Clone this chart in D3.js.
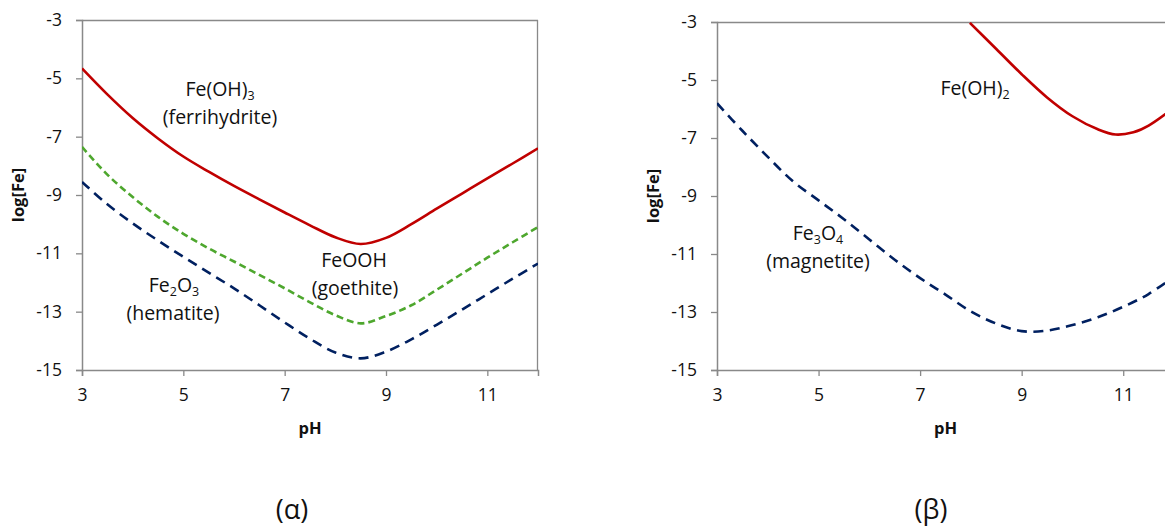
<!DOCTYPE html>
<html><head><meta charset="utf-8">
<script src="https://cdn.jsdelivr.net/npm/d3@7"></script>
<style>
html,body{margin:0;padding:0;background:#fff;}
svg{display:block;font-family:"Open Sans",sans-serif;}
</style></head>
<body><svg id="c" width="1165" height="527"></svg>
<script>
// ---- data ----
const xTicks = [3,5,7,9,11];
const yTicks = [-3,-5,-7,-9,-11,-13,-15];

// panel (α)
const phA = [3,3.5,4,4.5,5,5.5,6,6.5,7,7.5,8,8.5,9,9.5,10,10.5,11,11.5,12];
const ferrihydrite = [-4.66,-5.55,-6.36,-7.06,-7.68,-8.2,-8.69,-9.15,-9.6,-10.04,-10.45,-10.68,-10.47,-10.0,-9.47,-8.95,-8.43,-7.92,-7.4];
const goethite     = [-7.35,-8.3,-9.07,-9.75,-10.33,-10.83,-11.28,-11.74,-12.2,-12.68,-13.12,-13.4,-13.15,-12.78,-12.25,-11.7,-11.15,-10.62,-10.1];
const hematite     = [-8.55,-9.32,-9.97,-10.56,-11.12,-11.66,-12.2,-12.78,-13.37,-13.93,-14.4,-14.6,-14.37,-13.95,-13.45,-12.93,-12.4,-11.87,-11.35];

// panel (β)
const phB1 = [3,3.5,4,4.5,5,5.5,6,6.5,7,7.5,8,8.5,9,9.5,10,10.5,11,11.5,12];
const magnetite = [-5.8,-6.75,-7.65,-8.5,-9.15,-9.8,-10.5,-11.2,-11.83,-12.4,-12.98,-13.4,-13.66,-13.64,-13.45,-13.18,-12.82,-12.38,-11.78];
const phB2 = [7.98,8.5,9,9.5,10,10.5,10.85,11.2,11.5,12];
const feOH2 = [-3.03,-3.93,-4.8,-5.6,-6.25,-6.7,-6.88,-6.8,-6.57,-5.95];

const svg = d3.select("#c");
const AX = "#898989";
const TXT = "#111";

function panel(cfg){
  const x = d3.scaleLinear().domain([3,12]).range([cfg.x0, cfg.x1]);
  const y = d3.scaleLinear().domain([-15,-3]).range([cfg.y1, cfg.y0]);
  const g = svg.append("g");
  const clipId = "clip"+cfg.id;
  svg.append("clipPath").attr("id",clipId).append("rect")
    .attr("x",cfg.x0).attr("y",cfg.y0).attr("width",cfg.x1-cfg.x0).attr("height",cfg.y1-cfg.y0);

  // frame top/right
  g.append("line").attr("x1",cfg.x0).attr("x2",cfg.x1).attr("y1",cfg.y0+0.5).attr("y2",cfg.y0+0.5).attr("stroke",AX).attr("stroke-width",1.3);
  g.append("line").attr("x1",cfg.x1-0.5).attr("x2",cfg.x1-0.5).attr("y1",cfg.y0).attr("y2",cfg.y1).attr("stroke",AX).attr("stroke-width",1.3);

  const xa = g.append("g").attr("transform",`translate(0,${cfg.y1})`)
    .call(d3.axisBottom(x).tickValues(xTicks).tickSize(6).tickPadding(13).tickFormat(d3.format("d")));
  const ya = g.append("g").attr("transform",`translate(${cfg.x0},0)`)
    .call(d3.axisLeft(y).tickValues(yTicks).tickSize(6).tickPadding(14).tickFormat(d=>d<0?"-"+Math.abs(d):d));
  [xa,ya].forEach(a=>{
    a.select(".domain").attr("stroke",AX).attr("stroke-width",1.5);
    a.selectAll(".tick line").attr("stroke",AX).attr("stroke-width",1.3);
    a.selectAll(".tick text").attr("fill",TXT).style("font-size","17.5px").style("font-family","Open Sans");
  });
  g.append("text").attr("x",(cfg.x0+cfg.x1)/2).attr("y",cfg.y1+64)
    .attr("text-anchor","middle").attr("font-weight","bold").attr("font-size",16.5).attr("fill",TXT).text("pH");
  g.append("text").attr("transform",`translate(${cfg.x0-64},${(cfg.y0+cfg.y1)/2}) rotate(-90)`)
    .attr("dy","0.35em").attr("text-anchor","middle").attr("font-weight","bold").attr("font-size",16.5).attr("fill",TXT).text("log[Fe]");

  const lines = g.append("g").attr("clip-path",`url(#${clipId})`);
  cfg.series.forEach(s=>{
    const line = d3.line().x((d,i)=>x(s.x[i])).y(d=>y(d)).curve(d3.curveCatmullRom.alpha(0.5));
    lines.append("path").datum(s.y).attr("d",line).attr("fill","none")
      .attr("stroke",s.color).attr("stroke-width",s.w)
      .attr("stroke-dasharray",s.dash||null);
  });
  return {x,y,g};
}

const fs = 19.5;
function label(g, cx, by, parts){
  const t = g.append("text").attr("x",cx).attr("y",by).attr("text-anchor","middle")
    .attr("font-size",fs).attr("fill",TXT);
  parts.forEach(p=>{
    if(typeof p === "string") t.append("tspan").text(p);
    else if(p.sub) t.append("tspan").attr("font-size",fs*0.64).attr("dy",p.dy).text(p.t);
    else t.append("tspan").attr("dy",p.dy).text(p.t);
  });
}

const A = panel({id:"a", x0:82, x1:538, y0:20, y1:370, series:[
  {x:phA, y:ferrihydrite, color:"#C00000", w:2.6},
  {x:phA, y:goethite, color:"#4EA72E", w:2.6, dash:"7,4"},
  {x:phA, y:hematite, color:"#002060", w:2.6, dash:"10,6.5"}
]});
const B = panel({id:"b", x0:717, x1:1174, y0:22, y1:370, series:[
  {x:phB2, y:feOH2, color:"#C00000", w:2.6},
  {x:phB1, y:magnetite, color:"#002060", w:2.6, dash:"10,6.5"}
]});

label(A.g, 220, 96, ["Fe(OH)", {t:"3",dy:4,sub:1}]);
label(A.g, 220, 124, ["(ferrihydrite)"]);
label(A.g, 354, 267, ["FeOOH"]);
label(A.g, 355, 295, ["(goethite)"]);
label(A.g, 174, 292, ["Fe", {t:"2",dy:4,sub:1}, {t:"O",dy:-4}, {t:"3",dy:4,sub:1}]);
label(A.g, 173, 320, ["(hematite)"]);
label(B.g, 975, 95, ["Fe(OH)", {t:"2",dy:4,sub:1}]);
label(B.g, 818, 240, ["Fe", {t:"3",dy:4,sub:1}, {t:"O",dy:-4}, {t:"4",dy:4,sub:1}]);
label(B.g, 818, 268, ["(magnetite)"]);

svg.append("text").attr("x",292).attr("y",519).attr("text-anchor","middle").attr("font-size",27).attr("fill",TXT).text("(α)");
svg.append("text").attr("x",931).attr("y",519).attr("text-anchor","middle").attr("font-size",27).attr("fill",TXT).text("(β)");
</script>
</body></html>
